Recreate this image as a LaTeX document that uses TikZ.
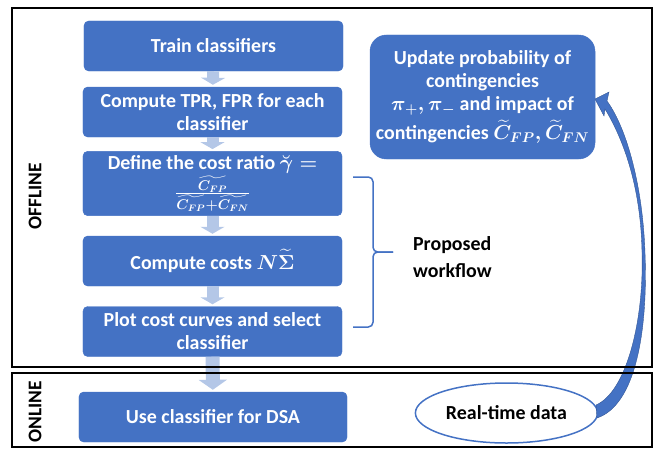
\documentclass[tikz,border=0pt]{standalone}
\usepackage{fontspec}
\setmainfont{Carlito}
\usepackage{amsmath, amssymb}
\definecolor{boxblue}{RGB}{68, 114, 196}
\definecolor{edgeblue}{RGB}{47, 82, 143}
\definecolor{arrowblue}{RGB}{180, 199, 231}
\usetikzlibrary{shapes, arrows.meta, positioning, calc}

\begin{document}
\begin{tikzpicture}[
  x=0.03cm, y=-0.03cm,
  stepbox/.style={draw=boxblue, fill=boxblue, rounded corners=4pt, minimum width=7.77cm, minimum height=1.5cm, align=center, text=white, font=\fontsize{17}{19.5}\selectfont\bfseries\boldmath},
  flowarrow/.style={draw=arrowblue, line width=0.36cm, -{Triangle[width=0.72cm, length=0.21cm]}, shorten >=0.06cm},
  frame/.style={draw=black, line width=0.06cm},
  sidelabel/.style={rotate=90, font=\fontsize{16.5}{19.5}\selectfont\bfseries}
]
  \useasboundingbox (0,0) rectangle (655,449);

  \node[stepbox] (train) at (213.5,46) {Train classifiers};
  \node[stepbox] (tpr) at (212.5,112) {Compute TPR, FPR for each\\classifier};
  \node[stepbox, minimum height=1.83cm] (ratio) at (212.5,183.5) {Define the cost ratio $\breve{\gamma}=$\\[1pt]
    $\frac{\widetilde{C_{FP}}}{\widetilde{C_{FP}}+\widetilde{C_{FN}}}$};
  \node[stepbox] (costs) at (212.5,261) {Compute costs $N\widetilde{\Sigma}$};
  \node[stepbox] (plot) at (212.5,331.5) {Plot cost curves and select\\classifier};
  \node[stepbox, minimum width=8.04cm] (use) at (213,417) {Use classifier for DSA};

  \node[stepbox, rounded corners=14pt, minimum width=6.75cm, minimum height=3.72cm] (update) at (482.5,97) {Update probability of\\contingencies\\$\pi_{+},\pi_{-}$ and impact of\\[3pt]contingencies $\widetilde{C}_{FP},\widetilde{C}_{FN}$};

  \node[draw=boxblue, line width=0.045cm, ellipse, minimum width=5.31cm, minimum height=1.8cm, font=\fontsize{17}{19.5}\selectfont\bfseries] (rt) at (506.5,413) {Real-time data};

  \node[align=left, anchor=west, font=\fontsize{17}{23}\selectfont\bfseries] (workflow) at (409,257) {Proposed\\workflow};

  \node[sidelabel] (offline) at (35,196) {OFFLINE};
  \node[sidelabel] (online) at (35,412) {ONLINE};

  \draw[flowarrow] (train) -- (tpr);
  \draw[flowarrow] (tpr) -- (ratio);
  \draw[flowarrow] (ratio) -- (costs);
  \draw[flowarrow] (costs) -- (plot);
  \draw[flowarrow, line width=0.42cm, -{Triangle[width=0.84cm, length=0.3cm]}] (plot) -- (use);

  \draw[boxblue, line width=0.045cm, rounded corners=4pt] (353,177) -| (373,252) -- (393,252);
  \draw[boxblue, line width=0.045cm, rounded corners=4pt] (393,252) -- (373,252) |- (353,327);

  \fill[boxblue, draw=edgeblue, line width=0.3pt] (597,418) .. controls (636,405) and (648,330) .. (645,253)
    .. controls (643,190) and (628,130) .. (607,101) -- (609,92) -- (595,99) -- (604,116) -- (605,109)
    .. controls (625,142) and (641,190) .. (642,253) .. controls (644,322) and (626,392) .. (596,405) -- cycle;

  \draw[frame] (12,8) rectangle (652,367);
  \draw[frame] (12,373) rectangle (652,447);
\end{tikzpicture}
\end{document}
